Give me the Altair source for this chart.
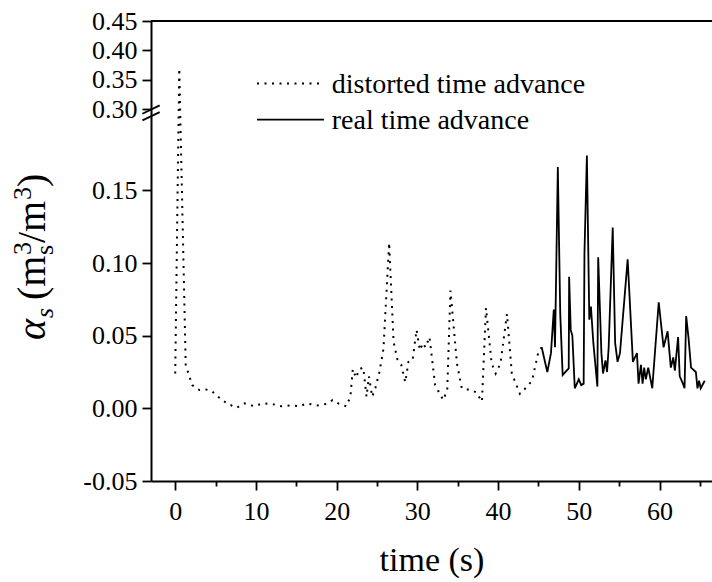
import altair as alt
import pandas as pd

# ---------------- data ----------------
dist_t = [0, 0.5, 1.3, 2.1, 3.0, 3.8, 4.5, 5.2, 6.4, 7.6, 8.6, 9.8, 10.8, 12.0, 13.2,
          14.4, 15.4, 16.3, 17.6, 18.6, 19.5, 20.2, 21.2, 21.7, 22.0, 22.4, 22.8, 23.3,
          23.7, 24.0, 24.4, 24.8, 25.3, 25.8, 26.5, 27.05, 27.5, 28.0, 28.5, 28.9, 29.4,
          29.9, 30.3, 30.7, 31.0, 31.5, 32.2, 33.2, 33.7, 34.1, 34.9, 35.5, 36.6, 37.3,
          38.0, 38.5, 39.2, 39.7, 40.3, 41.1, 41.7, 42.7, 43.6, 44.2, 45.0, 45.4]
dist_v = [0.024, 0.369, 0.030, 0.016, 0.0126, 0.013, 0.012, 0.0085, 0.0034, 0.0004,
          0.0034, 0.0014, 0.0034, 0.003, 0.0014, 0.002, 0.0014, 0.0034, 0.002, 0.003,
          0.0057, 0.0034, 0.0014, 0.008, 0.027, 0.021, 0.027, 0.028, 0.008, 0.022, 0.008,
          0.014, 0.025, 0.041, 0.114, 0.046, 0.034, 0.030, 0.018, 0.032, 0.033, 0.054,
          0.040, 0.045, 0.042, 0.049, 0.016, 0.0057, 0.0126, 0.081, 0.031, 0.0138, 0.0126,
          0.011, 0.0046, 0.069, 0.031, 0.024, 0.031, 0.065, 0.024, 0.010, 0.015, 0.019,
          0.039, 0.042]

real_t = [45.4, 45.85, 46.1, 46.55, 46.9, 47.05, 47.4, 47.7, 48.0, 48.75, 48.8, 49.0,
          49.2, 49.5, 50.0, 50.3, 50.6, 50.7, 51.0, 51.3, 51.5, 51.8, 52.3, 52.4, 52.8,
          53.0, 53.3, 53.5, 53.7, 54.2, 54.5, 54.8, 55.1, 56.05, 56.7, 57.2, 57.4, 57.7,
          57.9, 58.1, 58.3, 58.6, 59.1, 59.9, 60.5, 61.0, 61.4, 61.7, 61.9, 62.3, 62.5,
          62.9, 63.1, 63.3, 63.6, 63.9, 64.5, 64.7, 64.9, 65.1, 65.6]
real_v = [0.042, 0.031, 0.025, 0.038, 0.068, 0.042, 0.166, 0.065, 0.023, 0.0275, 0.0905,
          0.054, 0.050, 0.0138, 0.020, 0.016, 0.017, 0.107, 0.174, 0.061, 0.070, 0.045,
          0.015, 0.104, 0.038, 0.024, 0.033, 0.025, 0.042, 0.1245, 0.045, 0.032, 0.038,
          0.1025, 0.032, 0.038, 0.017, 0.030, 0.017, 0.028, 0.020, 0.028, 0.0138, 0.073,
          0.042, 0.053, 0.028, 0.035, 0.026, 0.049, 0.022, 0.017, 0.0138, 0.0635, 0.048,
          0.028, 0.025, 0.0138, 0.019, 0.0138, 0.019]

x_ticks = [0, 5, 10, 15, 20, 25, 30, 35, 40, 45, 50, 55, 60, 65]
y_ticks = [-0.05, -0.025, 0.0, 0.025, 0.05, 0.075, 0.10, 0.125, 0.15, 0.175,
           0.30, 0.325, 0.35, 0.375, 0.40, 0.425, 0.45]
x_domain = [-3, 66.5]
y_domain = [-0.05, 0.206, 0.30, 0.45]   # broken axis: lower part, upper part
legend_labels = ["distorted time advance", "real time advance"]
x_title = "time (s)"

# ---------------- layout ----------------
W, H = 561, 460
BREAK_PX = 88
FONT = "Liberation Serif, Times New Roman, Times, serif"
PAD_L, PAD_T = 151, 21
DASH = [2, 5.5]

df_d = pd.DataFrame({"t": dist_t, "v": dist_v})
df_r = pd.DataFrame({"t": real_t, "v": real_v})
one = pd.DataFrame({"k": [0]})

xscale = alt.Scale(domain=x_domain, nice=False, zero=False)
yscale = alt.Scale(domain=y_domain, range=[H, BREAK_PX, BREAK_PX, 0], nice=False, zero=False)

x_major = "datum.value % 10 == 0"
y_major = "abs(datum.value*20 - round(datum.value*20)) < 0.01"

xaxis = alt.Axis(
    values=x_ticks, title=x_title, grid=False,
    labelExpr=f"{x_major} ? datum.label : ''",
    tickSize={"condition": {"test": x_major, "value": 9}, "value": 5},
    tickColor="black", tickWidth=1.8, domainColor="black", domainWidth=2,
    labelFont=FONT, labelFontSize=26, labelColor="black", labelPadding=8,
    titleFont=FONT, titleFontSize=34, titleFontWeight="normal", titleColor="black",
    titlePadding=19,
)
yaxis = alt.Axis(
    values=y_ticks, title=None, grid=False,
    labelExpr=f"{y_major} ? replace(format(datum.value, '.2f'), '\u2212', '-') : ''",
    tickSize={"condition": {"test": y_major, "value": 9}, "value": 5},
    tickColor="black", tickWidth=1.8, domainColor="black", domainWidth=2,
    labelFont=FONT, labelFontSize=26, labelColor="black", labelPadding=5,
    labelBaseline="middle",
)

dotted = alt.Chart(df_d).mark_line(
    color="black", strokeWidth=2, strokeDash=DASH
).encode(
    x=alt.X("t:Q", scale=xscale, axis=xaxis),
    y=alt.Y("v:Q", scale=yscale, axis=yaxis),
)
solid = alt.Chart(df_r).mark_line(color="black", strokeWidth=1.8).encode(
    x=alt.X("t:Q", scale=xscale),
    y=alt.Y("v:Q", scale=yscale),
)

# top frame line
top_line = alt.Chart(one).mark_rule(color="black", strokeWidth=2).encode(
    x=alt.value(0), x2=alt.value(W + 10), y=alt.value(0)
)

# axis-break slashes
breaks = []
for off in (0, 6.7):
    breaks.append(
        alt.Chart(one).mark_rule(color="black", strokeWidth=1.8,
                                 yOffset=4.7 + off, y2Offset=-3.6 + off).encode(
            x=alt.value(-8.6), x2=alt.value(8.7),
            y=alt.datum(y_domain[2]), y2=alt.datum(y_domain[2]),
        )
    )

# legend
leg_line_d = alt.Chart(one).mark_rule(color="black", strokeWidth=2, strokeDash=DASH).encode(
    x=alt.value(106), x2=alt.value(170), y=alt.value(62.6)
)
leg_line_r = alt.Chart(one).mark_rule(color="black", strokeWidth=1.8).encode(
    x=alt.value(106), x2=alt.value(173), y=alt.value(98.6)
)
leg_text_d = alt.Chart(one).mark_text(align="left", baseline="alphabetic", font=FONT,
                                      fontSize=28, color="black").encode(
    x=alt.value(180.7), y=alt.value(72.0), text=alt.value(legend_labels[0])
)
leg_text_r = alt.Chart(one).mark_text(align="left", baseline="alphabetic", font=FONT,
                                      fontSize=28, color="black").encode(
    x=alt.value(180.7), y=alt.value(107.6), text=alt.value(legend_labels[1])
)

# y-axis title built from pieces: alpha_s (m_s^3 / m^3)
title_pieces = [
    # text, size, style, baseline x (page), start y (page)
    ("\u03b1", 40, "italic", 45, 340),
    ("s", 26, "italic", 53, 318),
    ("(m", 40, "normal", 45, 300),
    ("s", 26, "normal", 53, 255),
    ("3", 26, "normal", 31, 255),
    ("/m", 40, "normal", 45, 243),
    ("3", 26, "normal", 31, 200),
    (")", 40, "normal", 45, 187),
]
ytitle = []
for txt, size, style, bx, sy in title_pieces:
    ytitle.append(
        alt.Chart(one).mark_text(angle=270, align="left", baseline="alphabetic",
                                 font=FONT, fontSize=size, fontStyle=style,
                                 color="black").encode(
            x=alt.value(bx - PAD_L), y=alt.value(sy - PAD_T), text=alt.value(txt)
        )
    )

chart = alt.layer(
    dotted, solid, top_line, *breaks, leg_line_d, leg_line_r, leg_text_d, leg_text_r, *ytitle
).properties(
    width=W, height=H,
    autosize=alt.AutoSizeParams(type="none"),
    padding={"left": PAD_L, "top": PAD_T, "right": 0, "bottom": 582 - PAD_T - H},
    background="white",
).configure_view(stroke=None)

chart.save("out.html", embed_options={"renderer": "svg", "actions": False})
